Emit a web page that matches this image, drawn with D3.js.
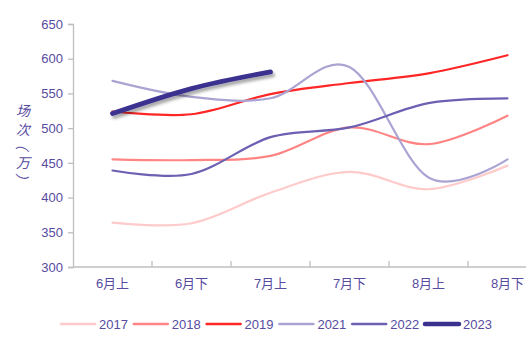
<!DOCTYPE html>
<html>
<head>
<meta charset="utf-8">
<script src="https://cdn.jsdelivr.net/npm/d3@7"></script>
<style>
  html, body { margin: 0; padding: 0; background: #fff; }
  svg { display: block; font-family: "Liberation Sans", Arial, "Noto Sans CJK SC", sans-serif; }
</style>
</head>
<body>
<svg id="chart" width="526" height="340"></svg>
<script>
// Periods on the x axis
const categories = ["6月上", "6月下", "7月上", "7月下", "8月上", "8月下"];

// Screenings (in 10k) per half-month, one array per year
const s2017 = [364, 363, 407, 437, 412, 446];
const s2018 = [455, 454, 460, 501, 477, 518];
const s2019 = [524, 520, 549, 565, 579, 605];
const s2021 = [568, 545, 543, 588, 429, 455];
const s2022 = [439, 434, 487, 501, 536, 543];
const s2023 = [521, 557, 581];

const seriesNames = ["2017", "2018", "2019", "2021", "2022", "2023"];
const seriesValues = [s2017, s2018, s2019, s2021, s2022, s2023];
const seriesColors = ["#ffcaca", "#ff8585", "#ff2626", "#aaa4d2", "#6b60b2", "#3b318f"];
const seriesWidths = [2.2, 2.2, 2.2, 2.2, 2.2, 4.8];

const yTicks = [300, 350, 400, 450, 500, 550, 600, 650];
const yTitle = "场次（万）";

const textColor = "#574b9f";
const axisColor = "#bfbfbf";

const svg = d3.select("#chart");

const plotLeft = 73, plotTop = 24, plotBottom = 267;
const x = d3.scaleBand().domain(categories).range([plotLeft, plotLeft + 6 * 79]).padding(0);
const y = d3.scaleLinear().domain([300, 650]).range([plotBottom, plotTop]);

// drop shadow used by the current-year line
const defs = svg.append("defs");
const f = defs.append("filter").attr("id", "shadow")
  .attr("x", "-10%").attr("y", "-50%").attr("width", "130%").attr("height", "200%");
f.append("feDropShadow").attr("dx", 2).attr("dy", 3).attr("stdDeviation", 1.8)
  .attr("flood-color", "#000").attr("flood-opacity", 0.35);

// Y axis
const yAxis = svg.append("g").attr("transform", `translate(${plotLeft},0)`)
  .call(d3.axisLeft(y).tickValues(yTicks).tickSize(5).tickPadding(5).tickFormat(d3.format("d")));
yAxis.select(".domain").attr("stroke", axisColor).attr("stroke-width", 1.3);
yAxis.selectAll(".tick line").attr("stroke", axisColor).attr("stroke-width", 1.3);
yAxis.selectAll(".tick text").attr("fill", textColor).style("font-size", "13px")
  .style("font-family", "'Liberation Sans', Arial, sans-serif");

// Y axis title, one character per row; brackets turned to their vertical form
const titleChars = Array.from(yTitle);
const titleY = [110, 128.5, 143, 161.5, 180];
const titleX = 23;
svg.append("g").selectAll("text").data(titleChars).join("text")
  .attr("x", titleX)
  .attr("y", (d, i) => titleY[i])
  .attr("text-anchor", "middle")
  .attr("dominant-baseline", "central")
  .attr("transform", (d, i) => (d === "（" || d === "）") ? `rotate(90,${titleX},${titleY[i]})` : null)
  .style("font-family", "'Noto Sans CJK SC', sans-serif")
  .style("font-size", "14px")
  .style("font-style", "italic")
  .attr("fill", textColor)
  .text(d => d);

// X axis: baseline, labels at band centers, ticks on band boundaries pointing up
const xAxis = svg.append("g").attr("transform", `translate(0,${plotBottom})`)
  .call(d3.axisBottom(x).tickSize(0).tickPadding(12));
xAxis.select(".domain").remove();
xAxis.selectAll(".tick text").attr("fill", textColor).style("font-size", "13px")
  .style("font-family", "'Liberation Sans', 'Noto Sans CJK SC', sans-serif");
svg.append("line").attr("x1", plotLeft).attr("x2", 526).attr("y1", plotBottom).attr("y2", plotBottom)
  .attr("stroke", axisColor).attr("stroke-width", 1.3);
svg.append("g").selectAll("line").data(categories.slice(1)).join("line")
  .attr("x1", d => x(d)).attr("x2", d => x(d))
  .attr("y1", plotBottom).attr("y2", plotBottom - 6)
  .attr("stroke", axisColor).attr("stroke-width", 1.3);

// Smoothed lines
const line = d3.line()
  .x((d, i) => x(categories[i]) + x.bandwidth() / 2)
  .y(d => y(d))
  .curve(d3.curveCardinal.tension(0));

const g = svg.append("g");
seriesValues.forEach((vals, i) => {
  const p = g.append("path")
    .attr("d", line(vals))
    .attr("fill", "none")
    .attr("stroke", seriesColors[i])
    .attr("stroke-width", seriesWidths[i])
    .attr("stroke-linecap", "round")
    .attr("stroke-linejoin", "round");
  if (seriesNames[i] === "2023") p.attr("filter", "url(#shadow)");
});

// Legend
const legend = svg.append("g").attr("transform", "translate(61,324)");
const item = legend.selectAll("g").data(seriesNames).join("g")
  .attr("transform", (d, i) => `translate(${i * 72.8},0)`);
item.append("line").attr("x1", 0).attr("x2", 34).attr("y1", 0).attr("y2", 0)
  .attr("stroke", (d, i) => seriesColors[i])
  .attr("stroke-width", (d, i) => seriesWidths[i] === 2.2 ? 2.5 : 4.5)
  .attr("stroke-linecap", "round");
item.append("text").attr("x", 38).attr("y", 0).attr("dy", "0.36em")
  .attr("fill", textColor).style("font-size", "13px").text(d => d);
</script>
</body>
</html>
